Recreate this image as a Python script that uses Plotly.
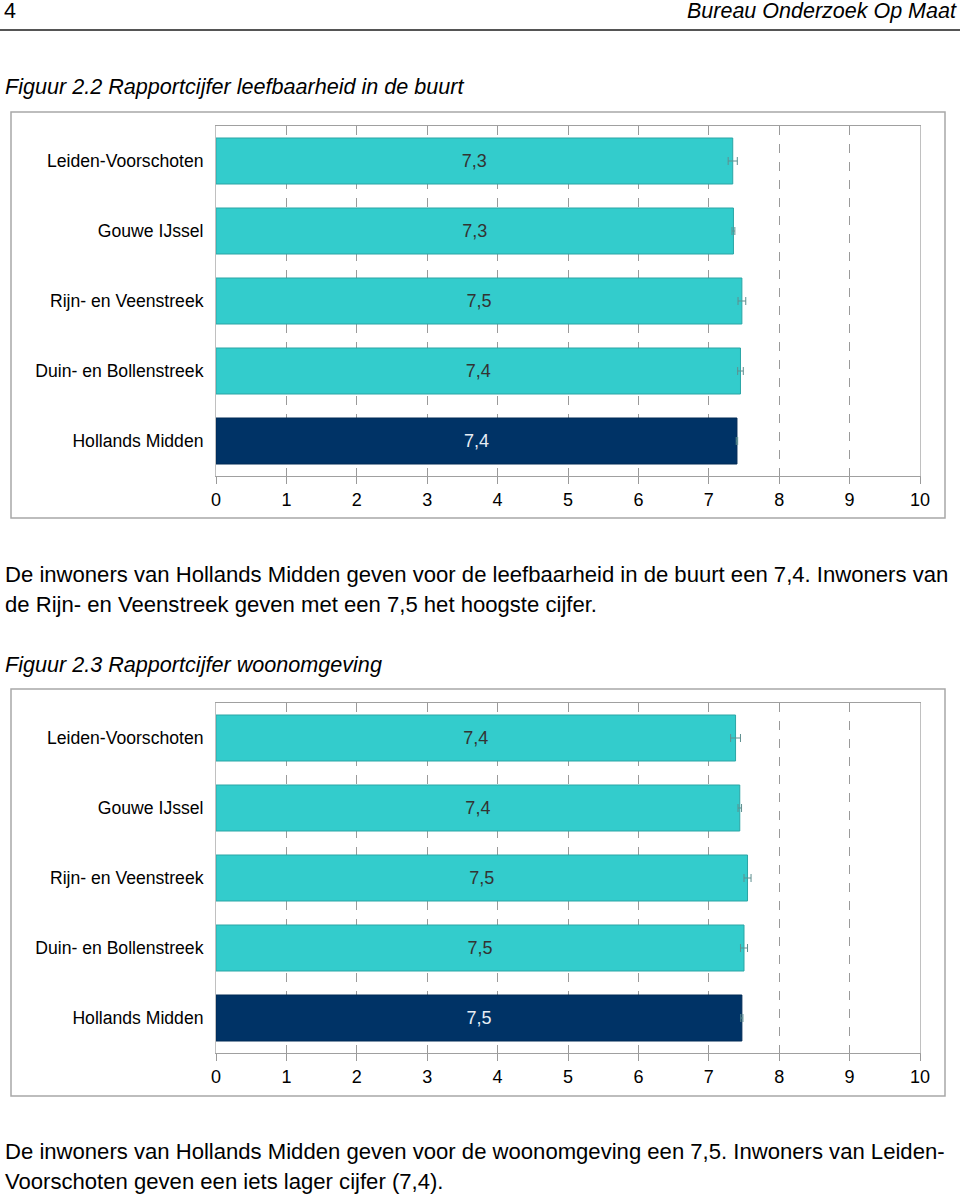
import plotly.graph_objects as go

# ---------------- data ----------------
regions = ["Leiden-Voorschoten", "Gouwe IJssel", "Rijn- en Veenstreek",
           "Duin- en Bollenstreek", "Hollands Midden"]

buurt_values = [7.34, 7.35, 7.47, 7.45, 7.40]
buurt_labels = ["7,3", "7,3", "7,5", "7,4", "7,4"]
buurt_err = [0.065, 0.02, 0.055, 0.04, 0.01]

woon_values = [7.38, 7.44, 7.55, 7.50, 7.47]
woon_labels = ["7,4", "7,4", "7,5", "7,5", "7,5"]
woon_err = [0.07, 0.025, 0.05, 0.05, 0.015]

x_ticks = [0, 1, 2, 3, 4, 5, 6, 7, 8, 9, 10]

# ---------------- styling ----------------
W, H = 960, 1197
FONT = "Liberation Sans, Arial, Helvetica, sans-serif"
TEAL = "#33CCCC"
NAVY = "#003366"
bar_colors = [TEAL, TEAL, TEAL, TEAL, NAVY]
line_colors = ["#2aa5a5", "#2aa5a5", "#2aa5a5", "#2aa5a5", "#002a55"]
text_colors = ["#333333", "#333333", "#333333", "#333333", "#e8eef5"]


def py(p):
    return 1 - p / H


def px(p):
    return p / W


fig = go.Figure()


def add_bars(values, labels, errs, xa, ya):
    fig.add_trace(go.Bar(
        x=values, y=regions, orientation="h",
        text=labels, textposition="inside", insidetextanchor="middle",
        textangle=0, constraintext="none",
        textfont=dict(family=FONT, size=18, color=text_colors),
        marker=dict(color=bar_colors, line=dict(color=line_colors, width=1)),
        error_x=dict(type="data", array=errs, visible=True,
                     color="#5f8f8f", thickness=1, width=4),
        xaxis=xa, yaxis=ya, showlegend=False, hoverinfo="skip",
    ))


add_bars(buurt_values, buurt_labels, buurt_err, "x", "y")
add_bars(woon_values, woon_labels, woon_err, "x2", "y2")

xaxis_common = dict(
    range=[0, 10], tickvals=x_ticks, ticktext=[str(t) for t in x_ticks],
    showgrid=True, gridcolor="#9a9a9a", griddash="dash", gridwidth=1,
    ticks="outside", ticklen=7, tickcolor="#9a9a9a",
    showline=True, linecolor="#a0a0a0", linewidth=1, mirror=True,
    tickfont=dict(family=FONT, size=18, color="#000"),
    zeroline=False, fixedrange=True, automargin=False,
)
yaxis_common = dict(
    categoryorder="array", categoryarray=regions, autorange="reversed",
    showline=True, linecolor="#c0c0c0", linewidth=1, mirror=True,
    ticks="", ticklabelstandoff=8,
    tickfont=dict(family=FONT, size=17.6, color="#000"),
    showgrid=False, fixedrange=True, automargin=False,
)

fig.update_layout(
    width=W, height=H, margin=dict(l=0, r=0, t=0, b=0, pad=0),
    autosize=False,
    paper_bgcolor="white", plot_bgcolor="white",
    bargap=0.343,
    xaxis=dict(domain=[px(216), px(920)], anchor="y", **xaxis_common),
    yaxis=dict(domain=[py(476), py(126)], anchor="x", **yaxis_common),
    xaxis2=dict(domain=[px(216), px(920)], anchor="y2", **xaxis_common),
    yaxis2=dict(domain=[py(1053), py(703)], anchor="x2", **yaxis_common),
)

shapes = [
    # header rule
    dict(type="line", xref="paper", yref="paper", x0=0, x1=1, y0=py(30), y1=py(30),
         line=dict(color="#555555", width=2)),
    # outer chart frames
    dict(type="rect", xref="paper", yref="paper", x0=px(11), x1=px(945),
         y0=py(518), y1=py(112), line=dict(color="#a8a8a8", width=1.5), layer="below"),
    dict(type="rect", xref="paper", yref="paper", x0=px(11), x1=px(945),
         y0=py(1096), y1=py(689), line=dict(color="#a8a8a8", width=1.5), layer="below"),
]
fig.update_layout(shapes=shapes)


def txt(text, x, y, anchor="left", size=22.1, italic=False):
    if italic:
        text = "<i>" + text + "</i>"
    fig.add_annotation(text=text, x=px(x), y=py(y), xref="paper", yref="paper",
                       xanchor=anchor, yanchor="middle", showarrow=False,
                       borderpad=0,
                       font=dict(family=FONT, size=size, color="#000"))


txt("4", 3, 11, size=21.5)
txt("Bureau Onderzoek Op Maat", 958, 11, anchor="right", size=21.5, italic=True)
txt("Figuur 2.2 Rapportcijfer leefbaarheid in de buurt", 4, 87, size=21.6, italic=True)
txt("De inwoners van Hollands Midden geven voor de leefbaarheid in de buurt een 7,4. Inwoners van",
    4, 575)
txt("de Rijn- en Veenstreek geven met een 7,5 het hoogste cijfer.", 4, 604)
txt("Figuur 2.3 Rapportcijfer woonomgeving", 4, 664, size=21.6, italic=True)
txt("De inwoners van Hollands Midden geven voor de woonomgeving een 7,5. Inwoners van Leiden-",
    4, 1151)
txt("Voorschoten geven een iets lager cijfer (7,4).", 4, 1181)

fig.write_html(
    "out.html",
    config={"displayModeBar": False},
    post_script="document.body.style.margin='0';document.body.style.overflow='hidden';",
)
